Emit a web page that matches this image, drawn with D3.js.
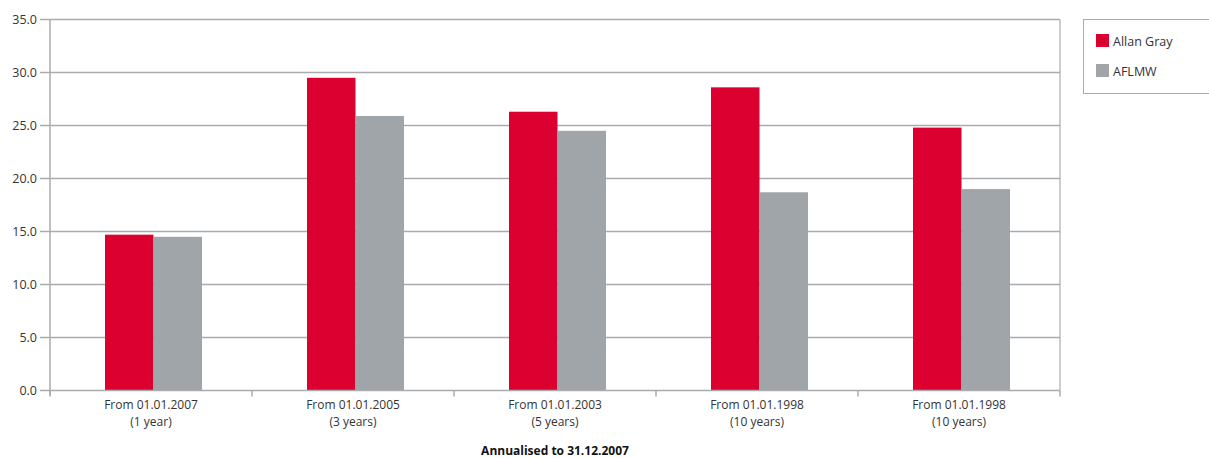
<!DOCTYPE html>
<html><head><meta charset="utf-8">
<script src="https://cdn.jsdelivr.net/npm/d3@7"></script>
<style>body{margin:0;background:#fff;} text{font-family:"Open Sans","Noto Sans",sans-serif;}</style>
</head><body>
<svg id="c" width="1209" height="458"></svg>
<script>
const categoryLine1 = ["From 01.01.2007","From 01.01.2005","From 01.01.2003","From 01.01.1998","From 01.01.1998"];
const categoryLine2 = ["(1 year)","(3 years)","(5 years)","(10 years)","(10 years)"];
const seriesNames = ["Allan Gray","AFLMW"];
const allanGray = [14.7, 29.5, 26.3, 28.6, 24.8];
const aflmw = [14.5, 25.9, 24.5, 18.7, 19.0];
const yTicks = [0,5,10,15,20,25,30,35];
const colors = ["#dc0030","#a0a5a9"];
const xTitle = "Annualised to 31.12.2007";

const svg = d3.select("#c");
const L=50, R=1060, T=19.5, B=390.5;
const idx = categoryLine1.map((d,i)=>i);
const x = d3.scaleBand().domain(idx).range([L,R]);
const y = d3.scaleLinear().domain([0,35]).range([B,T]);
const grid="#a9acaf";

svg.append("g").selectAll("line").data(yTicks.filter(t=>t>0)).join("line")
  .attr("x1",L).attr("x2",R).attr("y1",d=>y(d)).attr("y2",d=>y(d))
  .attr("stroke",grid).attr("stroke-width",1.5);
svg.append("line").attr("x1",R).attr("x2",R).attr("y1",T).attr("y2",B).attr("stroke",grid).attr("stroke-width",1.2);

const bw = 48.5;
const series=[allanGray,aflmw];
series.forEach((vals,s)=>{
  svg.append("g").selectAll("rect").data(vals).join("rect")
    .attr("x",(d,i)=>x(i)+x.bandwidth()/2 - bw + s*bw + 2.5)
    .attr("width",bw)
    .attr("y",d=>y(d)).attr("height",d=>y(0)-y(d))
    .attr("fill",colors[s]);
});

const ya = svg.append("g");
ya.append("line").attr("x1",L).attr("x2",L).attr("y1",T).attr("y2",B+5).attr("stroke",grid).attr("stroke-width",1.5);
ya.selectAll("line.t").data(yTicks).join("line").attr("class","t")
  .attr("x1",L-10).attr("x2",L).attr("y1",d=>y(d)).attr("y2",d=>y(d)).attr("stroke",grid).attr("stroke-width",1.5);
ya.selectAll("text").data(yTicks).join("text")
  .attr("x",37).attr("y",d=>y(d)).attr("dy","0.36em").attr("text-anchor","end")
  .attr("font-size",12.5).attr("fill","#333").text(d=>d.toFixed(1));

const xa = svg.append("g");
xa.append("line").attr("x1",L).attr("x2",R).attr("y1",B).attr("y2",B).attr("stroke",grid).attr("stroke-width",1.5);
const bounds = idx.map(i=>x(i)).concat([R]);
xa.selectAll("line.t").data(bounds).join("line").attr("class","t")
  .attr("x1",d=>d).attr("x2",d=>d).attr("y1",B).attr("y2",B+6).attr("stroke",grid).attr("stroke-width",1.5);
xa.selectAll("text.l1").data(categoryLine1).join("text").attr("class","l1")
  .attr("x",(d,i)=>x(i)+x.bandwidth()/2).attr("y",409)
  .attr("text-anchor","middle").attr("font-size",12).attr("fill","#333").text(d=>d);
xa.selectAll("text.l2").data(categoryLine2).join("text").attr("class","l2")
  .attr("x",(d,i)=>x(i)+x.bandwidth()/2).attr("y",425.5)
  .attr("text-anchor","middle").attr("font-size",12).attr("fill","#333").text(d=>d);
svg.append("text").attr("x",(L+R)/2).attr("y",455).attr("text-anchor","middle")
  .attr("font-size",12).attr("font-weight","bold").attr("fill","#111").text(xTitle);

const lg = svg.append("g");
lg.append("rect").attr("x",1083.5).attr("y",19.5).attr("width",140).attr("height",74).attr("fill","#fff").attr("stroke",grid).attr("stroke-width",1);
seriesNames.forEach((n,i)=>{
  lg.append("rect").attr("x",1096).attr("y",34+i*30).attr("width",13).attr("height",13).attr("fill",colors[i]);
  lg.append("text").attr("x",1113).attr("y",46+i*30).attr("font-size",12.5).attr("fill","#333").text(n);
});
</script>
</body></html>
